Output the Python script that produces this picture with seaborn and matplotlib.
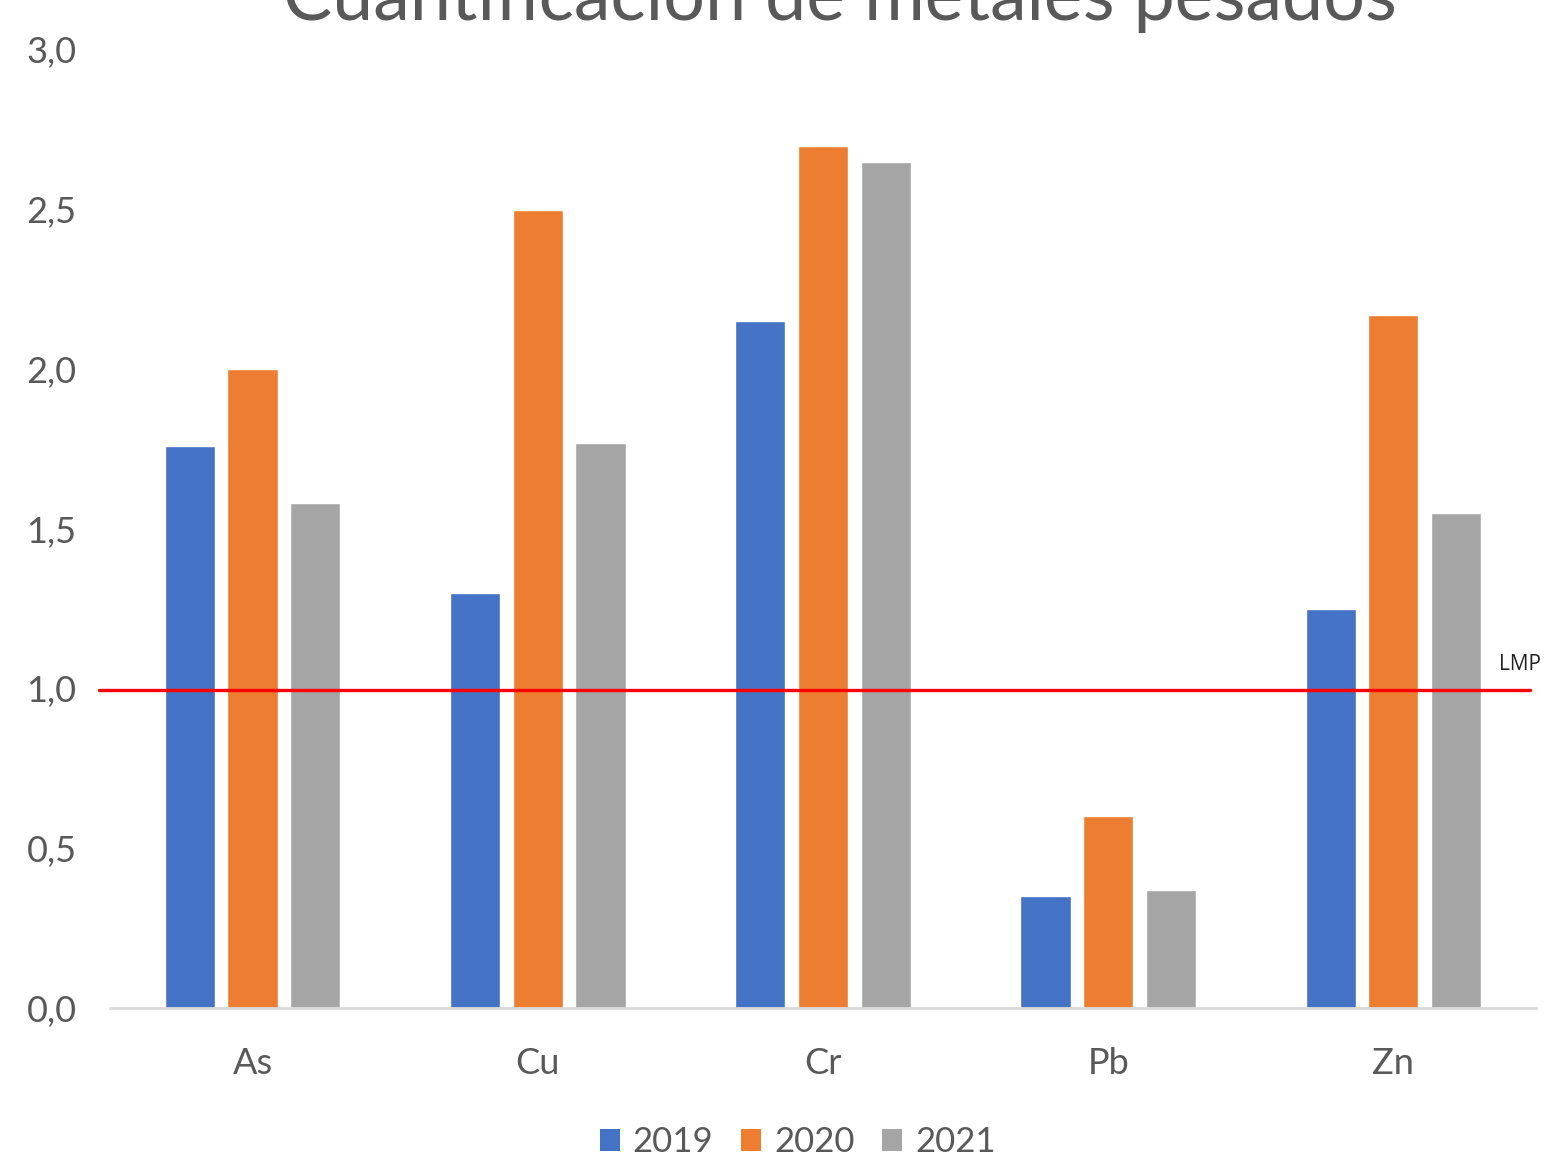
import matplotlib
matplotlib.use("Agg")
import matplotlib.pyplot as plt
import matplotlib.ticker as mticker
from matplotlib.patches import Patch
import pandas as pd
import seaborn as sns

# values
metals = ["As", "Cu", "Cr", "Pb", "Zn"]
years = ["2019", "2020", "2021"]
v2019 = [1.76, 1.30, 2.15, 0.35, 1.25]
v2020 = [2.00, 2.50, 2.70, 0.60, 2.17]
v2021 = [1.58, 1.77, 2.65, 0.37, 1.55]
lmp = 0.995
yticks = [0.0, 0.5, 1.0, 1.5, 2.0, 2.5, 3.0]
colors = ["#4472C4", "#ED7D31", "#A5A5A5"]

df = pd.DataFrame({
    "metal": metals * 3,
    "year": [y for y in years for _ in metals],
    "value": v2019 + v2020 + v2021,
})

sns.set_style("white")
plt.rcParams["font.family"] = ["Lato", "DejaVu Sans"]
text_color = "#595959"

fig = plt.figure(figsize=(15.49, 11.62), dpi=100)
ax = fig.add_axes([0.071, 0.1325, 0.9206, 0.8245])

sns.barplot(data=df, x="metal", y="value", hue="year", palette=colors,
            width=0.66, gap=0.2, saturation=1, legend=False, ax=ax)

ax.set_xlim(-0.5, 4.5)
ax.set_ylim(0, 3.0)
ax.set_yticks(yticks)
ax.yaxis.set_major_formatter(mticker.FuncFormatter(lambda v, _: f"{v:.1f}".replace(".", ",")))
ax.tick_params(axis="both", length=0, labelsize=26, colors=text_color)
ax.tick_params(axis="y", pad=24)
ax.tick_params(axis="x", pad=28)
ax.set_xlabel("")
ax.set_ylabel("")
for side in ["left", "right", "top"]:
    ax.spines[side].set_visible(False)
ax.spines["bottom"].set_color("#D9D9D9")
ax.spines["bottom"].set_linewidth(2)

# limit line
ax.axhline(lmp, xmin=-0.008, xmax=0.996, color="#FF0000", lw=2.4, clip_on=False, zorder=5)
ax.text(4.37, lmp + 0.065, "LMP", fontsize=15, color="#222222", family=["Open Sans", "DejaVu Sans"])

fig.text(0.542, 0.983, "Cuantificación de metales pesados", ha="center", va="baseline",
         fontsize=53, color=text_color)

handles = [Patch(facecolor=c, edgecolor="none") for c in colors]
fig.legend(handles, years, loc="center", bbox_to_anchor=(0.515, 0.017), ncol=3, frameon=False,
           fontsize=25, labelcolor=text_color, handlelength=0.58, handleheight=0.58,
           handletextpad=0.37, columnspacing=0.8)

fig.savefig("out.png", dpi=100)
